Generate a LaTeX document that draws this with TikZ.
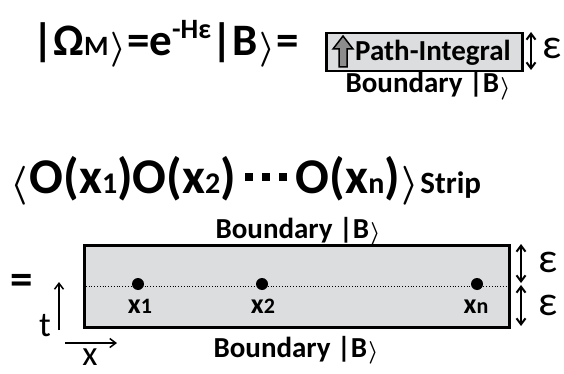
\documentclass[tikz,border=0pt]{standalone}
\usepackage{fontspec}
\setmainfont{Carlito}
\usetikzlibrary{arrows.meta}
\definecolor{stripfill}{HTML}{DCDDDE}
\definecolor{iconfill}{HTML}{8C8C8C}
\newcommand{\fs}[1]{\fontsize{#1}{#1}\selectfont}
\newcommand{\sub}[2]{{\fs{#1}#2}}
\newcommand{\sq}{\hspace{9pt}\raisebox{0.24em}{\rule{8pt}{8pt}}}
\newcommand{\ra}{\hspace{0.04em}\raisebox{-0.05em}{\resizebox*{!}{0.78em}{\boldmath$\rangle$}}\hspace{0.02em}}
\newcommand{\la}{\raisebox{-0.05em}{\resizebox*{!}{0.78em}{\boldmath$\langle$}}\hspace{0.04em}}
\tikzset{
  every picture/.style={line join=miter, >={Straight Barb[length=6pt,width=9pt]}},
  big/.style={font=\fs{45}\bfseries, inner sep=0pt},
  bigger/.style={font=\fs{50}\bfseries, inner sep=0pt},
  mid/.style={font=\fs{29}\bfseries, inner sep=0pt},
  lab/.style={font=\fs{28}\bfseries, inner sep=0pt},
  eps/.style={font=\fs{42}, inner sep=0pt},
  axlab/.style={font=\fs{35}, inner sep=0pt},
  panel/.style={draw, fill=stripfill, line width=3pt, inner sep=0pt},
  pt/.style={circle, fill, inner sep=0pt, minimum size=12pt},
  gap/.style={<->, line width=2pt},
  axis/.style={->, line width=1.5pt},
}

\begin{document}
\begin{tikzpicture}[x=1pt,y=-1pt]
\useasboundingbox (0,0) rectangle (564,374);
% first line: the state
\node[big, anchor=base west] (state) at (32,56)
  {|Ω\sub{28}{M}\ra=e\raisebox{17pt}{\sub{28}{-Hε}}|B\ra=};
\node[panel, line width=2.5pt, minimum width=196pt, minimum height=38pt, anchor=north west] (pibox) at (325,32) {};
\draw[line width=1.5pt, fill=iconfill] (339,67) -- (339,49) -- (333,49) -- (343,36) -- (353,49) -- (347,49) -- (347,67) -- cycle;
\node[mid, anchor=base west] (pitext) at (355,61) {Path-Integral};
\node[mid, anchor=base] (btop) at (428,93) {Boundary |B\ra};
\coordinate (a1) at (531,32);
\coordinate (a2) at (531,70);
\draw[gap] (a1) -- (a2);
\node[eps] (eps0) at (552,48) {ε};
% second line: the correlator
\node[bigger, anchor=base west] (corr) at (10,193)
  {\la O(x\sub{30}{1})O(x\sub{30}{2})\sq\sq\sq\hspace{9pt}O(x\sub{30}{n})\ra\sub{31}{Strip}};
\node[mid, anchor=base] (bup) at (298,238) {Boundary |B\ra};
\node[panel, minimum width=425pt, minimum height=82pt, anchor=north west] (strip) at (83,244) {};
\draw[dotted, line width=0.8pt] (strip.west) -- (strip.east);
\node[pt] (p1) at (138,284) {};
\node[pt] (p2) at (262,284) {};
\node[pt] (pn) at (477,284) {};
\node[lab, anchor=base] (l1) at (140,313) {x\sub{22}{1}};
\node[lab, anchor=base] (l2) at (263,313) {x\sub{22}{2}};
\node[lab, anchor=base] (ln) at (476,313) {x\sub{22}{n}};
\node[mid, anchor=base] (bdown) at (296,357) {Boundary |B\ra};
\node[big, anchor=center] (eq) at (22,284) {=};
% epsilon gaps
\coordinate (g1) at (521,244);
\coordinate (g2) at (521,284);
\coordinate (g3) at (521,326);
\draw[gap, shorten >=1pt] (g1) -- (g2);
\draw[gap, shorten <=1pt] (g2) -- (g3);
\node[eps] (eps1) at (548,262) {ε};
\node[eps] (eps2) at (548,305) {ε};
% axes
\coordinate (t0) at (59,330);
\coordinate (t1) at (59,282);
\coordinate (x0) at (65,343);
\coordinate (x1) at (117,343);
\draw[axis] (t0) -- (t1);
\draw[axis] (x0) -- (x1);
\node[axlab, anchor=base] (tl) at (45,336) {t};
\node[axlab, anchor=base] (xl) at (90,365) {x};
\end{tikzpicture}
\end{document}
